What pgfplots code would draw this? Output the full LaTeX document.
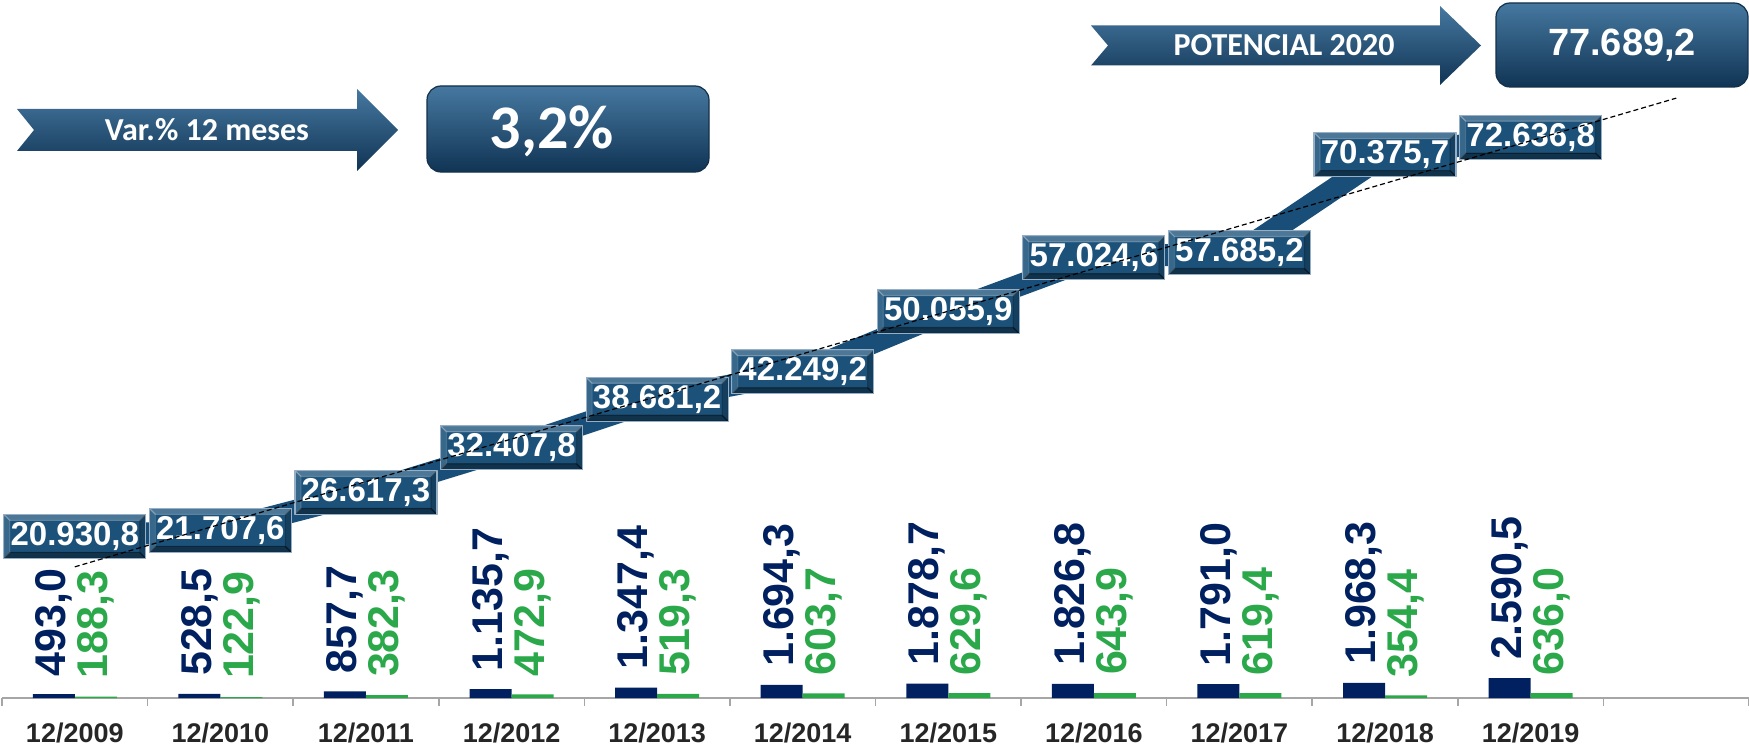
\documentclass[border=0pt]{standalone}
\usepackage{fontspec}
\setmainfont{Liberation Sans}
\newfontfamily\carlito{Carlito}
\usepackage{pgfplots}
\pgfplotsset{compat=1.18}
\usepackage{pgfplotstable}

\definecolor{navybar}{RGB}{0,32,96}
\definecolor{greenbar}{RGB}{42,168,74}
\definecolor{bandblue}{RGB}{24,78,120}
\definecolor{boxblue}{RGB}{28,82,122}
\definecolor{boxedge}{RGB}{150,175,198}
\definecolor{ticklab}{RGB}{38,38,38}
\definecolor{axisgray}{RGB}{166,166,166}
\definecolor{arrtop}{RGB}{70,120,160}
\definecolor{arrmid}{RGB}{28,86,130}
\definecolor{arrbot}{RGB}{16,52,84}
\definecolor{darkedge}{RGB}{18,48,74}

\pgfplotstableread{
x y label
0 20930.8 20.930,8
1 21707.6 21.707,6
2 26617.3 26.617,3
3 32407.8 32.407,8
4 38681.2 38.681,2
5 42249.2 42.249,2
6 50055.9 50.055,9
7 57024.6 57.024,6
8 57685.2 57.685,2
9 70375.7 70.375,7
10 72636.8 72.636,8
}\totaltab

\pgfplotstableread{
x v label
0 493.0 493,0
1 528.5 528,5
2 857.7 857,7
3 1135.7 1.135,7
4 1347.4 1.347,4
5 1694.3 1.694,3
6 1878.7 1.878,7
7 1826.8 1.826,8
8 1791.0 1.791,0
9 1968.3 1.968,3
10 2590.5 2.590,5
}\navytab

\pgfplotstableread{
x v label
0 188.3 188,3
1 122.9 122,9
2 382.3 382,3
3 472.9 472,9
4 519.3 519,3
5 603.7 603,7
6 629.6 629,6
7 643.9 643,9
8 619.4 619,4
9 354.4 354,4
10 636.0 636,0
}\greentab

\pgfplotstableread{
x y
0 16987.8
11 77689.2
}\trendtab

\tikzset{
  boxlabel/.style={fill=boxblue, draw=boxedge, line width=0.6pt, text=white,
    font=\bfseries\fontsize{16.5}{16.5}\selectfont, minimum width=71pt, minimum height=22pt, inner sep=0pt,
    path picture={
      \fill[white, opacity=0.22] (path picture bounding box.north west) -- (path picture bounding box.north east)
        -- ([shift={(-3pt,-3pt)}]path picture bounding box.north east) -- ([shift={(3pt,-3pt)}]path picture bounding box.north west) -- cycle;
      \fill[black, opacity=0.38] (path picture bounding box.south west) -- (path picture bounding box.south east)
        -- ([shift={(-3pt,3pt)}]path picture bounding box.south east) -- ([shift={(3pt,3pt)}]path picture bounding box.south west) -- cycle;
      \fill[black, opacity=0.22] (path picture bounding box.north east) -- (path picture bounding box.south east)
        -- ([shift={(-3pt,3pt)}]path picture bounding box.south east) -- ([shift={(-3pt,-3pt)}]path picture bounding box.north east) -- cycle;
      \fill[white, opacity=0.12] (path picture bounding box.north west) -- (path picture bounding box.south west)
        -- ([shift={(3pt,3pt)}]path picture bounding box.south west) -- ([shift={(3pt,-3pt)}]path picture bounding box.north west) -- cycle;
    }},
}

\begin{document}
\begin{tikzpicture}
\begin{axis}[
  at={(1pt,24pt)}, anchor=south west,
  scale only axis, width=873.5pt, height=349pt,
  xmin=-0.5, xmax=11.5, ymin=0, ymax=90400,
  clip=false, set layers,
  axis x line*=bottom, hide y axis,
  x axis line style={draw=axisgray, line width=0.8pt},
  xtick={0,...,10},
  xticklabels={12/2009,12/2010,12/2011,12/2012,12/2013,12/2014,12/2015,12/2016,12/2017,12/2018,12/2019},
  major tick length=0pt,
  minor xtick={-0.5,0.5,...,11.5},
  minor tick length=4pt, tick align=outside,
  minor x tick style={draw=axisgray, line width=0.8pt},
  xticklabel style={font=\bfseries\fontsize{13.5}{15}\selectfont, text=ticklab, anchor=center, yshift=-17.5pt},
]
\addplot[ybar, bar width=21pt, bar shift=-10.5pt, fill=navybar, draw=none,
  nodes near coords, point meta=explicit symbolic,
  every node near coord/.append style={xshift=-10.5pt, rotate=90, xshift=5.5pt, anchor=west, text=navybar, font=\bfseries\fontsize{21.5}{21.5}\selectfont}]
  table[x=x, y=v, meta=label]{\navytab};
\addplot[ybar, bar width=21pt, bar shift=10.5pt, fill=greenbar, draw=none,
  nodes near coords, point meta=explicit symbolic,
  every node near coord/.append style={xshift=10.5pt, rotate=90, xshift=5.5pt, anchor=west, text=greenbar, font=\bfseries\fontsize{21.5}{21.5}\selectfont}]
  table[x=x, y=v, meta=label]{\greentab};
\addplot[sharp plot, no marks, line width=11pt, color=bandblue, line join=round,
  nodes near coords, point meta=explicit symbolic,
  every node near coord/.append style={anchor=center, boxlabel}]
  table[x=x, y=y, meta=label]{\totaltab};
\addplot[sharp plot, no marks, black, line width=0.6pt, dash pattern=on 2.5pt off 1.5pt, on layer=axis foreground]
  table[x=x, y=y]{\trendtab};
\end{axis}

\begin{scope}[shift={(0,373pt)}, x=0.5pt, y=-0.5pt]
  % Var.% arrow
  \shade[top color=arrtop, middle color=arrmid, bottom color=arrbot]
    (17,109) -- (357,109) -- (357,89) -- (398,130) -- (357,171) -- (357,151) -- (17,151) -- (34,130) -- cycle;
  \node[text=white, font=\carlito\bfseries\fontsize{16}{16}\selectfont] at (207,130) {Var.\% 12 meses};
  % 3,2% box
  \shade[rounded corners=7pt, top color=arrtop, middle color=arrmid, bottom color=arrbot, draw=darkedge, line width=0.6pt]
    (427,86) rectangle (709,172);
  \node[text=white, font=\carlito\bfseries\fontsize{31}{31}\selectfont] at (552,131) {3,2\%};
  % POTENCIAL arrow
  \shade[top color=arrtop, middle color=arrmid, bottom color=arrbot]
    (1091,25.5) -- (1440,25.5) -- (1440,6) -- (1481,45.5) -- (1440,85) -- (1440,65.5) -- (1091,65.5) -- (1108,45.5) -- cycle;
  \node[text=white, font=\carlito\bfseries\fontsize{16}{16}\selectfont] at (1284,45.5) {POTENCIAL 2020};
  % 77.689,2 box
  \shade[rounded corners=7pt, top color=arrtop, middle color=arrmid, bottom color=arrbot, draw=darkedge, line width=0.6pt]
    (1496,3) rectangle (1748,87);
  \node[text=white, font=\bfseries\fontsize{19}{19}\selectfont] at (1622,45) {77.689,2};
\end{scope}
\pgfresetboundingbox
\useasboundingbox (0,0) rectangle (874.5pt,373pt);
\end{tikzpicture}
\end{document}
